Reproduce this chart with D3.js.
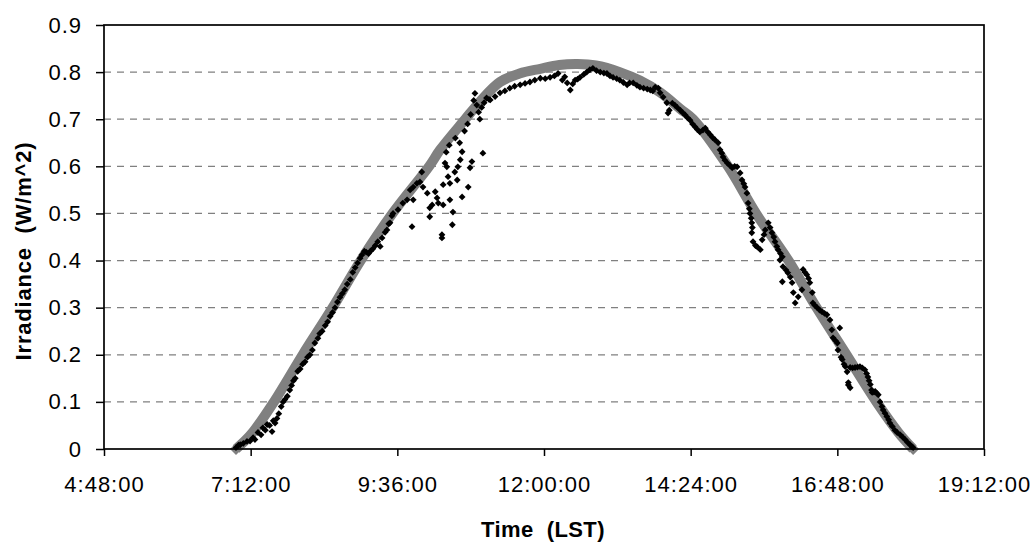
<!DOCTYPE html>
<html>
<head>
<meta charset="utf-8">
<script src="https://cdn.jsdelivr.net/npm/d3@7"></script>
<style>
  body { margin: 0; background: #fff; }
  svg text { font-family: "Liberation Sans", Arial, sans-serif; white-space: pre; }
</style>
</head>
<body>
<svg id="chart"></svg>
<script>
// Axis ticks (x in hours of the day)
const xTicks = [4.8, 7.2, 9.6, 12, 14.4, 16.8, 19.2];
const xTickLabels = ["4:48:00", "7:12:00", "9:36:00", "12:00:00", "14:24:00", "16:48:00", "19:12:00"];
const yTicks = [0, 0.1, 0.2, 0.3, 0.4, 0.5, 0.6, 0.7, 0.8, 0.9];

// Clear sky curve (grey)
const clearTime = [6.96, 7.2, 7.58, 8.05, 8.54, 9.0, 9.52, 10.12, 10.30, 10.71, 10.95, 11.28, 11.6, 11.94,
                   12.25, 12.55, 12.85, 13.24, 13.57, 13.9, 14.23, 14.44, 15.01, 15.47, 16.0, 16.46,
                   16.95, 17.44, 17.8, 18.04];
const clearVal  = [0, 0.03, 0.1, 0.2, 0.3, 0.4, 0.5, 0.6, 0.635, 0.7, 0.737, 0.779, 0.797, 0.807,
                   0.815, 0.817, 0.814, 0.80, 0.782, 0.757, 0.722, 0.7, 0.6, 0.5, 0.4, 0.3,
                   0.2, 0.1, 0.035, 0];

// Measured irradiance (black), [hour, W/m^2]
const measMorning = [[6.96,0.003],[7.00,0.008],[7.03,0.009],[7.08,0.012],[7.14,0.016],[7.19,0.017],[7.24,0.024],
  [7.27,0.020],[7.32,0.035],[7.37,0.030],[7.40,0.045],[7.44,0.040],[7.47,0.052],[7.51,0.050],[7.55,0.037],
  [7.57,0.060],[7.60,0.055],[7.63,0.065],[7.66,0.075],[7.70,0.090],[7.73,0.100],[7.76,0.105],[7.80,0.112],
  [7.84,0.125],[7.87,0.135],[7.90,0.145],[7.93,0.150],[7.97,0.165],[8.01,0.170],[8.05,0.180],[8.09,0.185],
  [8.13,0.195],[8.17,0.200],[8.21,0.210],[8.25,0.225],[8.30,0.235],[8.33,0.245],[8.37,0.250],[8.42,0.262],
  [8.46,0.270],[8.50,0.282],[8.54,0.290],[8.58,0.300],[8.62,0.312],[8.66,0.322],[8.70,0.330],[8.74,0.338],
  [8.78,0.350],[8.83,0.360],[8.87,0.375],[8.91,0.385],[8.95,0.395],[8.99,0.405],[9.02,0.412],[9.06,0.420],
  [9.09,0.418],[9.13,0.415],[9.16,0.420],[9.20,0.425],[9.24,0.432],[9.28,0.440],[9.32,0.430],[9.35,0.448],
  [9.40,0.460],[9.43,0.465],[9.46,0.478],[9.48,0.480],[9.51,0.495],[9.53,0.500]];

const measCloudy = [[9.61,0.508],[9.69,0.522],[9.76,0.529],[9.81,0.550],[9.84,0.472],[9.86,0.529],[9.86,0.556],
  [9.92,0.564],[9.97,0.567],[10.00,0.588],[10.02,0.556],[10.09,0.543],[10.13,0.493],[10.13,0.512],[10.17,0.518],
  [10.22,0.546],[10.25,0.533],[10.27,0.522],[10.33,0.455],[10.33,0.448],[10.35,0.561],[10.35,0.518],[10.38,0.607],
  [10.41,0.599],[10.43,0.578],[10.46,0.564],[10.46,0.529],[10.50,0.476],[10.51,0.503],[10.54,0.588],[10.58,0.571],
  [10.59,0.599],[10.63,0.614],[10.66,0.535],[10.66,0.631],[10.76,0.556],[10.79,0.597],[10.82,0.610],[11.00,0.628],
  [10.40,0.630],[10.45,0.645],[10.55,0.660],[10.62,0.650],[10.70,0.675],[10.75,0.690],[10.80,0.710],[10.85,0.740],
  [10.87,0.755],[10.90,0.730],[10.93,0.715],[10.95,0.700],[10.98,0.725],[11.02,0.735],[11.06,0.745],[11.10,0.742]];

const measNoon = [[11.12,0.741],[11.20,0.748],[11.28,0.756],[11.36,0.760],[11.44,0.766],[11.52,0.770],[11.61,0.773],
  [11.69,0.776],[11.77,0.779],[11.85,0.783],[11.94,0.787],[12.02,0.786],[12.10,0.789],[12.17,0.792],[12.23,0.797],
  [12.30,0.783],[12.34,0.790],[12.38,0.777],[12.43,0.762],[12.47,0.775],[12.51,0.783],[12.55,0.785],[12.59,0.789],
  [12.65,0.795],[12.70,0.800],[12.75,0.805],[12.80,0.808],[12.86,0.803],[12.92,0.800],[12.98,0.798],[13.03,0.797],
  [13.08,0.792],[13.13,0.789],[13.19,0.786],[13.24,0.783],[13.30,0.778],[13.36,0.773],[13.40,0.777],[13.46,0.777],
  [13.52,0.772],[13.57,0.768],[13.63,0.766],[13.69,0.764],[13.74,0.762],[13.78,0.760],[13.82,0.768],[13.87,0.766],
  [13.90,0.756],[13.95,0.747]];

const measAfternoon = [[14.01,0.735],[14.03,0.713],[14.05,0.719],[14.10,0.734],[14.14,0.730],[14.18,0.725],
  [14.23,0.719],[14.27,0.714],[14.31,0.709],[14.35,0.703],[14.39,0.698],[14.43,0.690],[14.47,0.684],[14.51,0.678],
  [14.55,0.673],[14.60,0.677],[14.64,0.681],[14.68,0.673],[14.72,0.667],[14.76,0.661],[14.80,0.656],[14.85,0.650],
  [14.88,0.635],[14.91,0.628],[14.93,0.620],[14.96,0.613],[15.00,0.607],[15.04,0.602],[15.08,0.597],[15.12,0.600],
  [15.16,0.599],[15.21,0.586],[15.24,0.571],[15.27,0.563],[15.29,0.556],[15.32,0.543],[15.34,0.522],[15.36,0.510],
  [15.37,0.500],[15.39,0.490],[15.40,0.480],[15.41,0.470],[15.40,0.459],[15.42,0.440],[15.46,0.432],[15.49,0.429],
  [15.54,0.423],[15.57,0.444],[15.60,0.455],[15.62,0.465],[15.67,0.480],[15.70,0.470],[15.73,0.459],[15.76,0.450],
  [15.78,0.440],[15.81,0.430],[15.83,0.423],[15.87,0.415],[15.90,0.408]];

const measEvening = [[15.86,0.401],[15.91,0.387],[15.90,0.355],[15.96,0.380],[15.99,0.374],[16.03,0.365],
  [16.06,0.353],[16.08,0.332],[16.11,0.310],[16.16,0.323],[16.22,0.338],[16.24,0.381],[16.27,0.375],[16.30,0.370],
  [16.33,0.362],[16.35,0.353],[16.39,0.332],[16.40,0.310],[16.43,0.305],[16.47,0.300],[16.51,0.295],[16.55,0.291],
  [16.59,0.288],[16.63,0.285],[16.68,0.274],[16.71,0.253],[16.73,0.236],[16.77,0.230],[16.80,0.225],[16.81,0.210],
  [16.84,0.257],[16.86,0.195],[16.88,0.190],[16.91,0.180],[16.93,0.175],[16.96,0.164],[16.98,0.141],[16.98,0.136],
  [17.01,0.130],[17.01,0.173],[17.05,0.172],[17.09,0.173],[17.13,0.174],[17.17,0.175],[17.21,0.172],[17.25,0.168],
  [17.28,0.160],[17.30,0.153],[17.32,0.145],[17.34,0.137],[17.36,0.125],[17.37,0.120],[17.40,0.121],[17.42,0.122],
  [17.45,0.118],[17.47,0.115],[17.50,0.100],[17.53,0.090],[17.55,0.083],[17.58,0.076],[17.61,0.069],[17.64,0.062],
  [17.66,0.055],[17.70,0.048],[17.74,0.040],[17.78,0.035],[17.83,0.030],[17.87,0.025],[17.91,0.020],[17.95,0.014],
  [17.99,0.009],[18.02,0.005],[18.04,0.003]];

// Set dimensions
const W = 1033, H = 544;
const margin = { top: 25, right: 49, bottom: 95, left: 104 },
      width = W - margin.left - margin.right,
      height = H - margin.top - margin.bottom;

const svg = d3.select("#chart").attr("width", W).attr("height", H);
const g = svg.append("g").attr("transform", `translate(${margin.left},${margin.top})`);

// Scales
const x = d3.scaleLinear().domain([4.8, 19.2]).range([0, width]);
const y = d3.scaleLinear().domain([0, 0.9]).range([height, 0]);

// Gridlines
g.append("g")
  .selectAll("line")
  .data(yTicks.filter(d => d > 0 && d < 0.9))
  .join("line")
  .attr("x1", 0).attr("x2", width)
  .attr("y1", d => y(d)).attr("y2", d => y(d))
  .attr("stroke", "#808080")
  .attr("stroke-width", 1.3)
  .attr("stroke-dasharray", "7,6");

// Diamond shape
const diamond = r => `M0,${-r}L${r},0L0,${r}L${-r},0Z`;

// Clear sky band
const clear = clearTime.map((t, i) => [t, clearVal[i]]);
g.append("path")
  .datum(clear)
  .attr("fill", "none")
  .attr("stroke", "#808080")
  .attr("stroke-width", 10)
  .attr("d", d3.line().x(d => x(d[0])).y(d => y(d[1])).curve(d3.curveCatmullRom));

g.selectAll(".clear")
  .data([clear[0], clear[clear.length - 1]])
  .join("path")
  .attr("class", "clear")
  .attr("transform", d => `translate(${x(d[0])},${y(d[1])})`)
  .attr("d", diamond(6))
  .attr("fill", "#808080");

// Measured points
const measured = [].concat(measMorning, measCloudy, measNoon, measAfternoon, measEvening);
g.selectAll(".meas")
  .data(measured)
  .join("path")
  .attr("class", "meas")
  .attr("transform", d => `translate(${x(d[0])},${y(d[1])})`)
  .attr("d", diamond(3.4))
  .attr("fill", "#000");

// Axes
const yAxis = g.append("g")
  .call(d3.axisLeft(y).tickValues(yTicks).tickFormat(d => d === 0 ? "0" : d3.format(".1f")(d))
        .tickSize(8).tickPadding(14));
const xAxis = g.append("g")
  .attr("transform", `translate(0,${height})`)
  .call(d3.axisBottom(x).tickValues(xTicks).tickFormat((d, i) => xTickLabels[i])
        .tickSize(7).tickPadding(20));

[yAxis, xAxis].forEach(a => {
  a.select(".domain").remove();
  a.selectAll("line").attr("stroke", "#000").attr("stroke-width", 1.5);
  a.selectAll("text").style("font-size", "22px").style("letter-spacing", "1px").attr("fill", "#000");
});

// Plot border
g.append("rect")
  .attr("width", width).attr("height", height)
  .attr("fill", "none")
  .attr("stroke", "#000")
  .attr("stroke-width", 1.7);

// Axis titles
svg.append("text")
  .attr("x", 543).attr("y", 537)
  .attr("text-anchor", "middle")
  .style("font-size", "22px").style("font-weight", "bold").style("letter-spacing", "0.4px")
  .text("Time  (LST)");

svg.append("text")
  .attr("transform", "translate(31,251) rotate(-90)")
  .attr("text-anchor", "middle")
  .style("font-size", "22px").style("font-weight", "bold").style("letter-spacing", "0.8px")
  .text("Irradiance  (W/m^2)");
</script>
</body>
</html>
